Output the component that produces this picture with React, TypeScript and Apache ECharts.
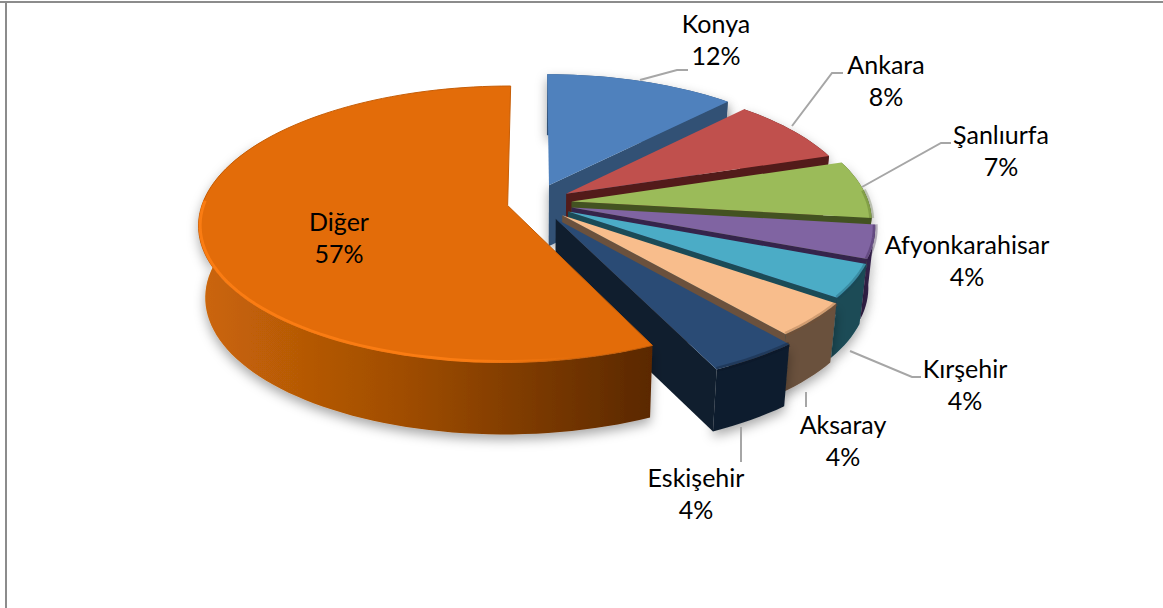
import React, { useEffect, useRef } from "react";
import * as echarts from "echarts";

const categories = ["Konya", "Ankara", "Şanlıurfa", "Afyonkarahisar", "Kırşehir", "Aksaray", "Eskişehir", "Diğer"];
const shares = [12, 8, 7, 4, 4, 4, 4, 57];

const topColors = ["#4F81BD", "#C0504D", "#9BBB59", "#8064A2", "#4BACC6", "#F8BD8C", "#2A4B75", "#E36C09"];
const sideColors = ["#315175", "#521B1A", "#435221", "#35244B", "#1B4B57", "#6B513D", "#101E2E", "#7A3A04"];
const bevelColors = ["rgba(0,0,0,0)", "rgba(0,0,0,0)", "rgba(60,80,20,.25)", "rgba(40,20,60,.3)", "rgba(20,70,85,.3)", "rgba(120,80,50,.3)", "rgba(10,20,35,.3)", "#FF7F14"];

// layout of the tilted pie, in pixels and in radius units
const originX = 533;
const originY = 203;
const radiusX = 305;
const radiusY = 135;
const tilt = 0.135;
const bottomShrink = 0.98;
const explode = [0.145, 0.13, 0.127, 0.13, 0.13, 0.13, 0.137, 0.085];
const radiusScale = [0.96, 0.955, 0.975, 0.98, 0.985, 1.0, 1.04, 1.0];
const depth = [61, 60, 60, 60, 60, 59, 62, 72];

const labelCenters: [number, number][] = [[716, 39], [886, 80], [1001, 150], [967, 260], [965, 384], [843, 440], [696, 493], [339, 237]];
const leaderLines: number[][][] = [
  [[640, 80], [677, 70], [688, 70]],
  [[792, 126], [832, 73], [843, 73]],
  [[862, 187], [941, 143], [951, 143]],
  [],
  [[850, 351], [912, 377], [921, 377]],
  [[806, 392], [806, 407]],
  [[741, 427], [741, 462]],
  [],
];

const total = shares.reduce((a, b) => a + b, 0);

function startDeg(i: number) {
  return (shares.slice(0, i).reduce((a, b) => a + b, 0) / total) * 360;
}
function endDeg(i: number) {
  return startDeg(i) + (shares[i] / total) * 360;
}
function midAngle(i: number) {
  return (((startDeg(i) + endDeg(i)) / 2) * Math.PI) / 180;
}
function project(i: number, deg: number, r: number) {
  const a = (deg * Math.PI) / 180;
  const mid = midAngle(i);
  const U = r * Math.sin(a) + explode[i] * Math.sin(mid);
  const V = -r * Math.cos(a) - explode[i] * Math.cos(mid);
  const p = 1 / (1 - tilt * V);
  return [originX + radiusX * U * p, originY + radiusY * V * p];
}
function arc(i: number, r: number, from: number, to: number) {
  const pts: number[][] = [];
  const n = Math.max(6, Math.ceil((to - from) / 2));
  for (let k = 0; k <= n; k++) pts.push(project(i, from + ((to - from) * k) / n, r));
  return pts;
}
const lower = ([x, y]: number[], d: number) => [originX + (x - originX) * bottomShrink, y + d];

function renderItem(params: any, api: any) {
  const i = params.dataIndex;
  const r = radiusScale[i];
  const d = depth[i];
  const s = startDeg(i);
  const e = endDeg(i);
  const rim = arc(i, r, s, e);
  const apex = project(i, 0, 0);
  const corner = rim[rim.length - 1];
  const shadow = { shadowBlur: 12, shadowColor: "rgba(0,0,0,0.35)", shadowOffsetY: 5 };
  const sideFill =
    i === 7
      ? new echarts.graphic.LinearGradient(0, 0, 1, 0, [
          { offset: 0, color: "#CC6608" },
          { offset: 0.45, color: "#A04D04" },
          { offset: 1, color: "#5A2800" },
        ])
      : sideColors[i];
  const children: any[] = [];
  // outer wall; the back of the last slice is out of sight
  const wallRim = i === 7 ? arc(i, r, s, 300) : rim;
  children.push({
    type: "polygon",
    shape: { points: [...wallRim, ...wallRim.map((p) => lower(p, d)).reverse()] },
    style: { fill: sideFill, ...shadow },
  });
  // far cut face (the last slice's one looks away from the viewer)
  if (i !== 7) {
    children.push({
      type: "polygon",
      shape: { points: [apex, corner, lower(corner, d), lower(apex, d)] },
      style: { fill: sideColors[i], ...(i === 0 ? shadow : {}) },
    });
  }
  // top face
  children.push({
    type: "polygon",
    shape: { points: [apex, ...rim] },
    style: { fill: topColors[i], ...(i === 7 ? { stroke: "#C65E08", lineWidth: 1 } : {}) },
  });
  // soft shoulder on the rim
  const shoulderFrom = i === 7 ? 165 : Math.max(s, 85);
  const shoulderTo = i === 7 ? 272 : e;
  if (shoulderTo > shoulderFrom) {
    children.push({
      type: "polyline",
      shape: { points: arc(i, i === 7 ? r * 0.995 : r, shoulderFrom, shoulderTo) },
      style: {
        fill: "none",
        stroke:
          i === 7
            ? new echarts.graphic.LinearGradient(0, 0, 1, 0, [
                { offset: 0, color: "rgba(255,127,20,.85)" },
                { offset: 0.7, color: "rgba(255,127,20,.85)" },
                { offset: 0.95, color: "rgba(255,127,20,0)" },
              ])
            : bevelColors[i],
        lineWidth: i === 7 ? 3 : 5,
      },
    });
  }
  // leader line
  if (leaderLines[i].length) {
    children.push({
      type: "polyline",
      shape: { points: leaderLines[i] },
      style: { fill: "none", stroke: "#A6A6A6", lineWidth: 2 },
    });
  }
  // label
  children.push({
    type: "text",
    z2: 100,
    style: {
      text: `${categories[i]}\n${api.value(0)}%`,
      x: labelCenters[i][0],
      y: labelCenters[i][1],
      align: "center",
      verticalAlign: "middle",
      fontFamily: "Lato",
      fontSize: 25,
      lineHeight: 31.5,
      fill: "#000000",
    },
  });
  return { type: "group", children };
}

export default function App() {
  const ref = useRef<HTMLDivElement>(null);
  useEffect(() => {
    const chart = echarts.init(ref.current!, undefined, { renderer: "svg" });
    chart.setOption({
      animation: false,
      backgroundColor: "#FFFFFF",
      graphic: [
        { type: "line", shape: { x1: 0, y1: 2, x2: 1163, y2: 2 }, style: { stroke: "#8C8C8C", lineWidth: 2 }, silent: true },
        { type: "line", shape: { x1: 6, y1: 2, x2: 6, y2: 608 }, style: { stroke: "#8C8C8C", lineWidth: 2 }, silent: true },
      ],
      series: [
        {
          type: "custom",
          coordinateSystem: "none",
          silent: true,
          renderItem,
          data: categories.map((name, i) => ({ name, value: [shares[i]] })),
        },
      ],
    });
    return () => chart.dispose();
  }, []);
  return <div ref={ref} style={{ position: "absolute", left: 0, top: 0, width: 1163, height: 608 }} />;
}
